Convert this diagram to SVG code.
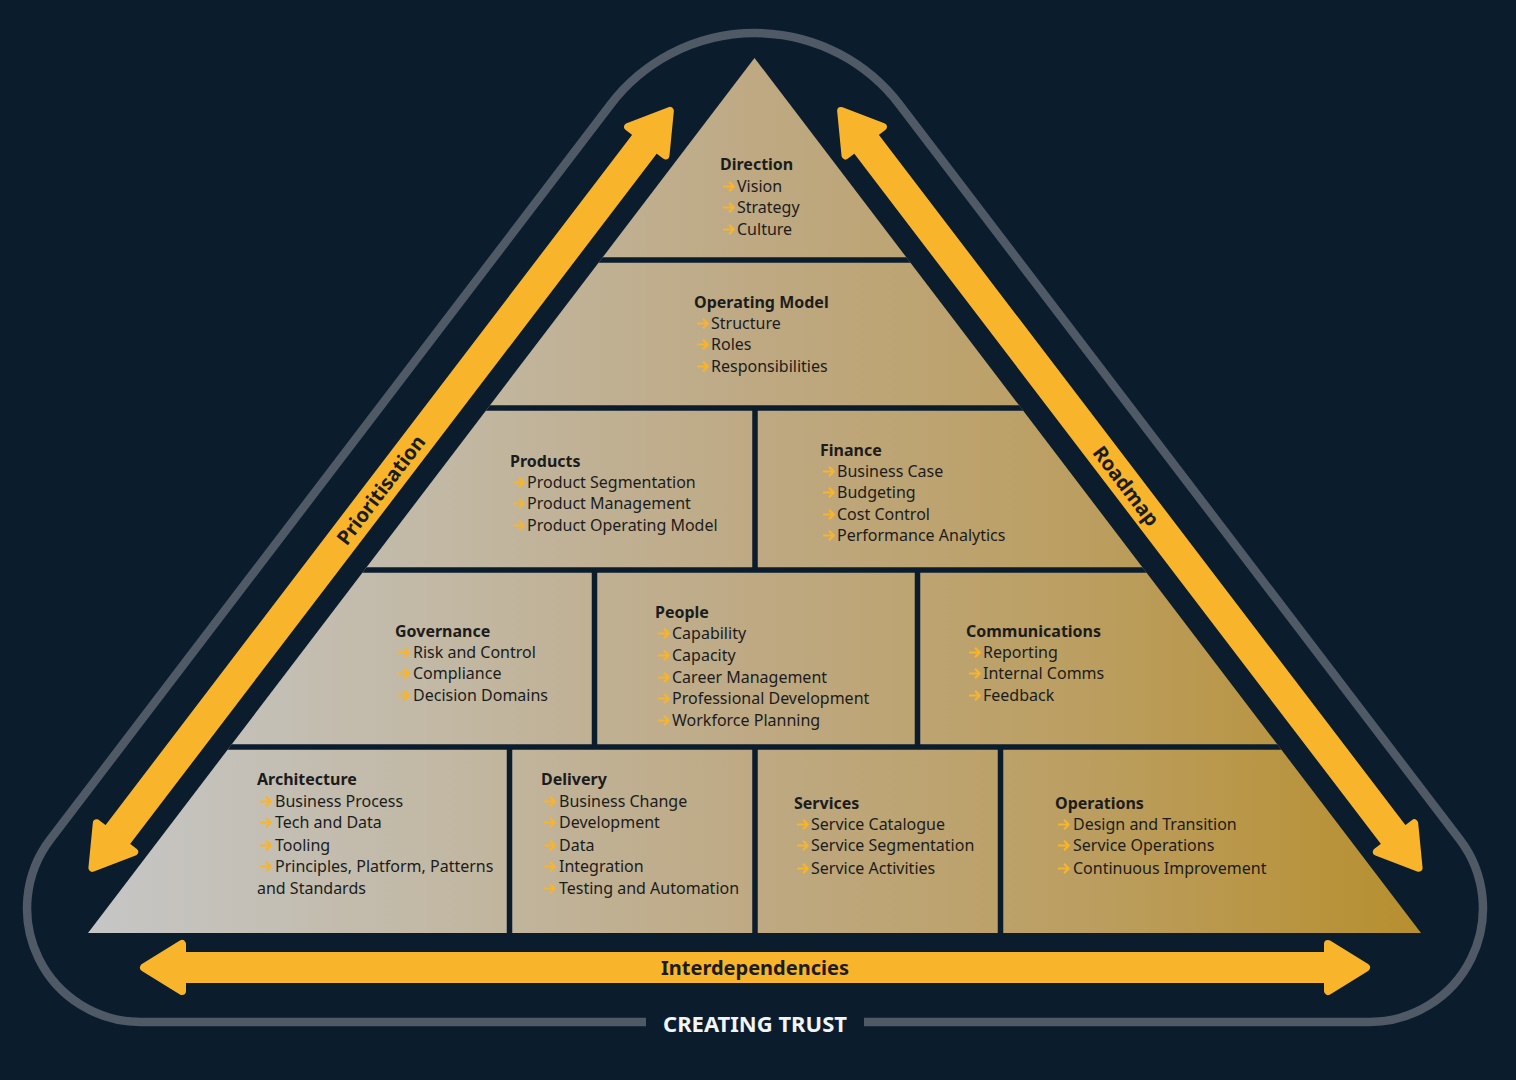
<svg xmlns="http://www.w3.org/2000/svg" xmlns:xlink="http://www.w3.org/1999/xlink" width="1516" height="1080" viewBox="0 0 1516 1080">
<defs>
<linearGradient id="pg" gradientUnits="userSpaceOnUse" x1="88" y1="0" x2="1421" y2="0">
<stop offset="0" stop-color="#c6c6c6"/>
<stop offset="0.25" stop-color="#c2b9a6"/>
<stop offset="0.5" stop-color="#bea983"/>
<stop offset="0.75" stop-color="#bb9e60"/>
<stop offset="1" stop-color="#b78f2e"/>
</linearGradient>
<clipPath id="pyr"><polygon points="754.5,58 88,933 1421,933"/></clipPath>
<path id="bul" d="M0,0 H10.5 M6,-4.8 L10.8,0 L6,4.8" fill="none" stroke="#f8b42b" stroke-width="2.2" stroke-linejoin="round"/>
<style>
.t{font-family:"Noto Sans","Open Sans",sans-serif;font-size:16px;fill:#1c1c1c}
.h{font-weight:bold}
.arr{fill:#f8b42b;stroke:#f8b42b;stroke-width:8;stroke-linejoin:round}
.lab{font-family:"Noto Sans","Open Sans",sans-serif;font-size:20px;font-weight:bold;fill:#1c1c1c;text-anchor:middle}
.gap{stroke:#0b1c2d;stroke-width:5.5}
</style>
</defs>
<rect width="1516" height="1080" fill="#0b1c2d"/>
<path d="M646,1022 L140.7,1022 A113.7,113.7 0 0 1 50.3,839.4 L610.5,104.6 A181.7,181.7 0 0 1 899.5,104.6 L1459.7,839.4 A113.7,113.7 0 0 1 1369.3,1022 L864,1022" fill="none" stroke="#505a66" stroke-width="8.5"/>
<text x="755" y="1031.5" font-family="Noto Sans, Open Sans, sans-serif" font-size="22" font-weight="bold" fill="#f2f4f7" text-anchor="middle">CREATING TRUST</text>
<polygon points="754.5,58 88,933 1421,933" fill="url(#pg)"/>
<g clip-path="url(#pyr)">
<line class="gap" x1="0" y1="260" x2="1516" y2="260"/>
<line class="gap" x1="0" y1="408" x2="1516" y2="408"/>
<line class="gap" x1="0" y1="570" x2="1516" y2="570"/>
<line class="gap" x1="0" y1="747" x2="1516" y2="747"/>
<line class="gap" x1="755" y1="408" x2="755" y2="570"/>
<line class="gap" x1="594.5" y1="570" x2="594.5" y2="747"/>
<line class="gap" x1="917.5" y1="570" x2="917.5" y2="747"/>
<line class="gap" x1="509.5" y1="747" x2="509.5" y2="940"/>
<line class="gap" x1="755" y1="747" x2="755" y2="940"/>
<line class="gap" x1="1000.5" y1="747" x2="1000.5" y2="940"/>
</g>
<g id="connectors">
<g id="interdependencies" transform="translate(140,967.5)">
<polygon class="arr" points="4,0 42,-23.5 42,-11.5 1188,-11.5 1188,-23.5 1226,0 1188,23.5 1188,11.5 42,11.5 42,23.5"/>
<text class="lab" x="615" y="7">Interdependencies</text>
</g>
<g id="prioritisation" transform="translate(90,871) rotate(-52.66)">
<polygon class="arr" points="4,0 42,-23.5 42,-11.5 918,-11.5 918,-23.5 956,0 918,23.5 918,11.5 42,11.5 42,23.5"/>
</g>
<text class="lab" transform="translate(381,490) rotate(-52.66)" y="7">Prioritisation</text>
<g id="roadmap" transform="translate(1421,871) rotate(-127.34)">
<polygon class="arr" points="4,0 42,-23.5 42,-11.5 918,-11.5 918,-23.5 956,0 918,23.5 918,11.5 42,11.5 42,23.5"/>
</g>
<text class="lab" transform="translate(1126,486) rotate(52.66)" y="7">Roadmap</text>
</g>
<g id="direction">
<text class="t h" x="720" y="170">Direction</text>
<use xlink:href="#bul" x="723" y="186.5"/><text class="t" x="737" y="192">Vision</text>
<use xlink:href="#bul" x="723" y="207.5"/><text class="t" x="737" y="213">Strategy</text>
<use xlink:href="#bul" x="723" y="229.5"/><text class="t" x="737" y="235">Culture</text>
</g>
<g id="operating-model">
<text class="t h" x="694" y="308">Operating Model</text>
<use xlink:href="#bul" x="697" y="323.5"/><text class="t" x="711" y="329">Structure</text>
<use xlink:href="#bul" x="697" y="344.5"/><text class="t" x="711" y="350">Roles</text>
<use xlink:href="#bul" x="697" y="366.5"/><text class="t" x="711" y="372">Responsibilities</text>
</g>
<g id="products">
<text class="t h" x="510" y="467">Products</text>
<use xlink:href="#bul" x="513" y="482.5"/><text class="t" x="527" y="488">Product Segmentation</text>
<use xlink:href="#bul" x="513" y="503.5"/><text class="t" x="527" y="509">Product Management</text>
<use xlink:href="#bul" x="513" y="525.5"/><text class="t" x="527" y="531">Product Operating Model</text>
</g>
<g id="finance">
<text class="t h" x="820" y="456">Finance</text>
<use xlink:href="#bul" x="823" y="471.5"/><text class="t" x="837" y="477">Business Case</text>
<use xlink:href="#bul" x="823" y="492.5"/><text class="t" x="837" y="498">Budgeting</text>
<use xlink:href="#bul" x="823" y="514.5"/><text class="t" x="837" y="520">Cost Control</text>
<use xlink:href="#bul" x="823" y="535.5"/><text class="t" x="837" y="541">Performance Analytics</text>
</g>
<g id="governance">
<text class="t h" x="395" y="637">Governance</text>
<use xlink:href="#bul" x="398" y="652.5"/><text class="t" x="413" y="658">Risk and Control</text>
<use xlink:href="#bul" x="398" y="673.5"/><text class="t" x="413" y="679">Compliance</text>
<use xlink:href="#bul" x="398" y="695.5"/><text class="t" x="413" y="701">Decision Domains</text>
</g>
<g id="people">
<text class="t h" x="655" y="618">People</text>
<use xlink:href="#bul" x="658" y="633.5"/><text class="t" x="672" y="639">Capability</text>
<use xlink:href="#bul" x="658" y="655.5"/><text class="t" x="672" y="661">Capacity</text>
<use xlink:href="#bul" x="658" y="677.5"/><text class="t" x="672" y="683">Career Management</text>
<use xlink:href="#bul" x="658" y="698.5"/><text class="t" x="672" y="704">Professional Development</text>
<use xlink:href="#bul" x="658" y="720.5"/><text class="t" x="672" y="726">Workforce Planning</text>
</g>
<g id="communications">
<text class="t h" x="966" y="637">Communications</text>
<use xlink:href="#bul" x="969" y="652.5"/><text class="t" x="983" y="658">Reporting</text>
<use xlink:href="#bul" x="969" y="673.5"/><text class="t" x="983" y="679">Internal Comms</text>
<use xlink:href="#bul" x="969" y="695.5"/><text class="t" x="983" y="701">Feedback</text>
</g>
<g id="architecture">
<text class="t h" x="257" y="785">Architecture</text>
<use xlink:href="#bul" x="260" y="801.5"/><text class="t" x="275" y="807">Business Process</text>
<use xlink:href="#bul" x="260" y="822.5"/><text class="t" x="275" y="828">Tech and Data</text>
<use xlink:href="#bul" x="260" y="845.5"/><text class="t" x="275" y="851">Tooling</text>
<use xlink:href="#bul" x="260" y="866.5"/><text class="t" x="275" y="872">Principles, Platform, Patterns</text>
<text class="t" x="257" y="894">and Standards</text>
</g>
<g id="delivery">
<text class="t h" x="541" y="785">Delivery</text>
<use xlink:href="#bul" x="544" y="801.5"/><text class="t" x="559" y="807">Business Change</text>
<use xlink:href="#bul" x="544" y="822.5"/><text class="t" x="559" y="828">Development</text>
<use xlink:href="#bul" x="544" y="845.5"/><text class="t" x="559" y="851">Data</text>
<use xlink:href="#bul" x="544" y="866.5"/><text class="t" x="559" y="872">Integration</text>
<use xlink:href="#bul" x="544" y="888.5"/><text class="t" x="559" y="894">Testing and Automation</text>
</g>
<g id="services">
<text class="t h" x="794" y="809">Services</text>
<use xlink:href="#bul" x="797" y="824.5"/><text class="t" x="811" y="830">Service Catalogue</text>
<use xlink:href="#bul" x="797" y="845.5"/><text class="t" x="811" y="851">Service Segmentation</text>
<use xlink:href="#bul" x="797" y="868.5"/><text class="t" x="811" y="874">Service Activities</text>
</g>
<g id="operations">
<text class="t h" x="1055" y="809">Operations</text>
<use xlink:href="#bul" x="1058" y="824.5"/><text class="t" x="1073" y="830">Design and Transition</text>
<use xlink:href="#bul" x="1058" y="845.5"/><text class="t" x="1073" y="851">Service Operations</text>
<use xlink:href="#bul" x="1058" y="868.5"/><text class="t" x="1073" y="874">Continuous Improvement</text>
</g>
</svg>
